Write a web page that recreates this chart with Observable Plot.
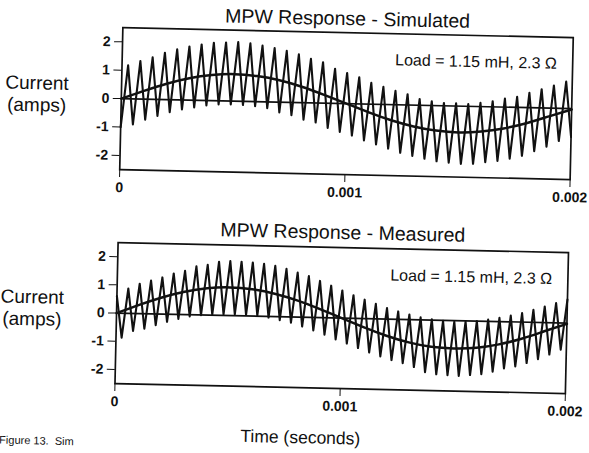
<!DOCTYPE html>
<html>
<head>
<meta charset="utf-8">
<script src="https://cdn.jsdelivr.net/npm/d3@7"></script>
<script src="https://cdn.jsdelivr.net/npm/@observablehq/plot@0.6"></script>
<style>
  html, body { margin: 0; padding: 0; background: #fff; overflow: hidden; }
  #page { position: relative; width: 589px; height: 453px; transform: rotate(1.27deg); transform-origin: 294.5px 226.5px; font-family: "Liberation Sans", Arial, Helvetica, sans-serif; color: #111; }
  .abs { position: absolute; white-space: nowrap; }
  .title { font-size: 19.5px; line-height: 20px; text-align: center; left: 118px; width: 450px; }
  .ylab { font-size: 19px; line-height: 22px; text-align: center; left: 0; width: 68px; }
  .plot { position: absolute; left: 0; }
</style>
</head>
<body>
<div id="page">
  <div class="abs title" style="top:7px">MPW Response - Simulated</div>
  <div class="abs ylab" style="top:78px">Current<br>(amps)</div>
  <div id="p1" class="plot" style="top:0px"></div>
  <div class="abs title" style="top:221px">MPW Response - Measured</div>
  <div class="abs ylab" style="top:292px">Current<br>(amps)</div>
  <div id="p2" class="plot" style="top:215.5px"></div>
  <div class="abs" style="top:428px; left:200px; width:210px; text-align:center; font-size:17.5px; line-height:18px">Time (seconds)</div>
  <div class="abs" style="top:440px; left:4px; font-size:11px; line-height:12px">Figure 13.&nbsp; Sim</div>
</div>
<script>
// ---- data ----
const xTicks = [0, 0.001, 0.002];
const yTicks = [-2, -1, 0, 1, 2];
const loadLabel = "Load = 1.15 mH, 2.3 \u03A9";

// fundamental (sampled every 0.0001 s)
const sineTimes = [0,0.0001,0.0002,0.0003,0.0004,0.0005,0.0006,0.0007,0.0008,0.0009,0.001,0.0011,0.0012,0.0013,0.0014,0.0015,0.0016,0.0017,0.0018,0.0019,0.002];
const simSine  = [0,0.29,0.56,0.77,0.9,0.95,0.9,0.77,0.56,0.29,0,-0.29,-0.55,-0.75,-0.88,-0.93,-0.88,-0.75,-0.55,-0.29,-0.03];
const measSine = [0,0.31,0.59,0.81,0.95,1.0,0.95,0.81,0.59,0.31,0,-0.31,-0.59,-0.81,-0.95,-0.99,-0.95,-0.81,-0.59,-0.31,-0.03];

// simulated ripple: 37 cycles, troughs at k*T, peaks at (k+0.5)*T
const simCycles = 37;
const simPeaks = [1.18,1.34,1.48,1.65,1.78,1.89,1.97,2.04,2.06,2.08,2.05,1.98,1.9,1.81,1.7,1.55,1.44,1.22,1.08,0.94,0.75,0.62,0.49,0.38,0.22,0.15,0.1,0.1,0.08,0.13,0.2,0.3,0.37,0.52,0.66,0.8,0.95];
const simTroughs = [-1.0,-0.9,-0.72,-0.58,-0.44,-0.33,-0.25,-0.17,-0.13,-0.12,-0.13,-0.16,-0.22,-0.36,-0.45,-0.6,-0.69,-0.87,-1.0,-1.12,-1.28,-1.41,-1.55,-1.69,-1.79,-1.88,-1.96,-2.0,-2.03,-2.02,-1.95,-1.9,-1.81,-1.7,-1.53,-1.36,-1.15,-1.0];

// measured ripple: 40 cycles, peaks at k*T, troughs at (k+0.5)*T
const measCycles = 40;
const measPeaks = [0.6,0.88,1.06,1.18,1.3,1.45,1.55,1.72,1.78,1.9,1.93,1.92,1.9,1.86,1.8,1.7,1.58,1.46,1.3,1.14,0.98,0.82,0.67,0.53,0.39,0.28,0.18,0.09,0.03,-0.02,-0.04,-0.03,0.0,0.06,0.13,0.22,0.32,0.44,0.57,0.7,0.83];
const measTroughs = [-0.87,-0.62,-0.53,-0.4,-0.27,-0.16,-0.06,-0.01,0.02,0.04,0.05,0.04,0.02,-0.04,-0.12,-0.2,-0.33,-0.46,-0.6,-0.76,-0.9,-1.05,-1.2,-1.33,-1.45,-1.55,-1.68,-1.85,-1.92,-1.94,-1.96,-1.92,-1.88,-1.78,-1.66,-1.58,-1.45,-1.3,-1.13,-0.95];

// ---- build tables ----
const span = 0.002;
function ripple(cycles, onWhole, onHalf) {
  const T = span / cycles, out = [];
  onWhole.forEach((v, k) => out.push({t: k * T, v}));
  onHalf.forEach((v, k) => out.push({t: (k + 0.5) * T, v}));
  return out.sort((a, b) => a.t - b.t);
}
const simRipple = ripple(simCycles, simTroughs, simPeaks);
const measRipple = ripple(measCycles, measPeaks, measTroughs);
const simFund = sineTimes.map((t, i) => ({t, v: simSine[i]}));
const measFund = sineTimes.map((t, i) => ({t, v: measSine[i]}));

const ink = "#111";
function panel(fund, rip, height, marginTop, loadY) {
  return Plot.plot({
    width: 589, height,
    marginLeft: 118, marginRight: 20.5, marginTop, marginBottom: 30,
    style: {fontFamily: '"Liberation Sans Narrow", "Arial Narrow", "Liberation Sans", Arial, sans-serif', fontSize: "14px", fontWeight: "bold", color: ink, background: "transparent"},
    x: {domain: [0, span], ticks: xTicks, tickFormat: d => d === 0 ? "0" : d.toFixed(3), tickSize: 8, tickPadding: 4.5, label: null},
    y: {domain: [-2.5, 2.5], ticks: yTicks, tickFormat: d => String(d), tickSize: 8, tickPadding: 4, label: null},
    marks: [
      Plot.frame({stroke: ink, strokeWidth: 1.7}),
      Plot.ruleY([0], {stroke: ink, strokeWidth: 1.7}),
      Plot.line(fund, {x: "t", y: "v", curve: "natural", stroke: ink, strokeWidth: 2.5}),
      Plot.line(rip, {x: "t", y: "v", stroke: ink, strokeWidth: 2.1}),
      Plot.text([loadLabel], {x: 0.00193, y: loadY, text: d => d, textAnchor: "end", fontSize: 16, fontWeight: "normal", fontFamily: '"Liberation Sans", Arial, sans-serif', fill: ink})
    ]
  });
}
document.getElementById("p1").append(panel(simFund, simRipple, 203, 31, 1.57));
document.getElementById("p2").append(panel(measFund, measRipple, 201, 30, 1.55));
</script>
</body>
</html>
